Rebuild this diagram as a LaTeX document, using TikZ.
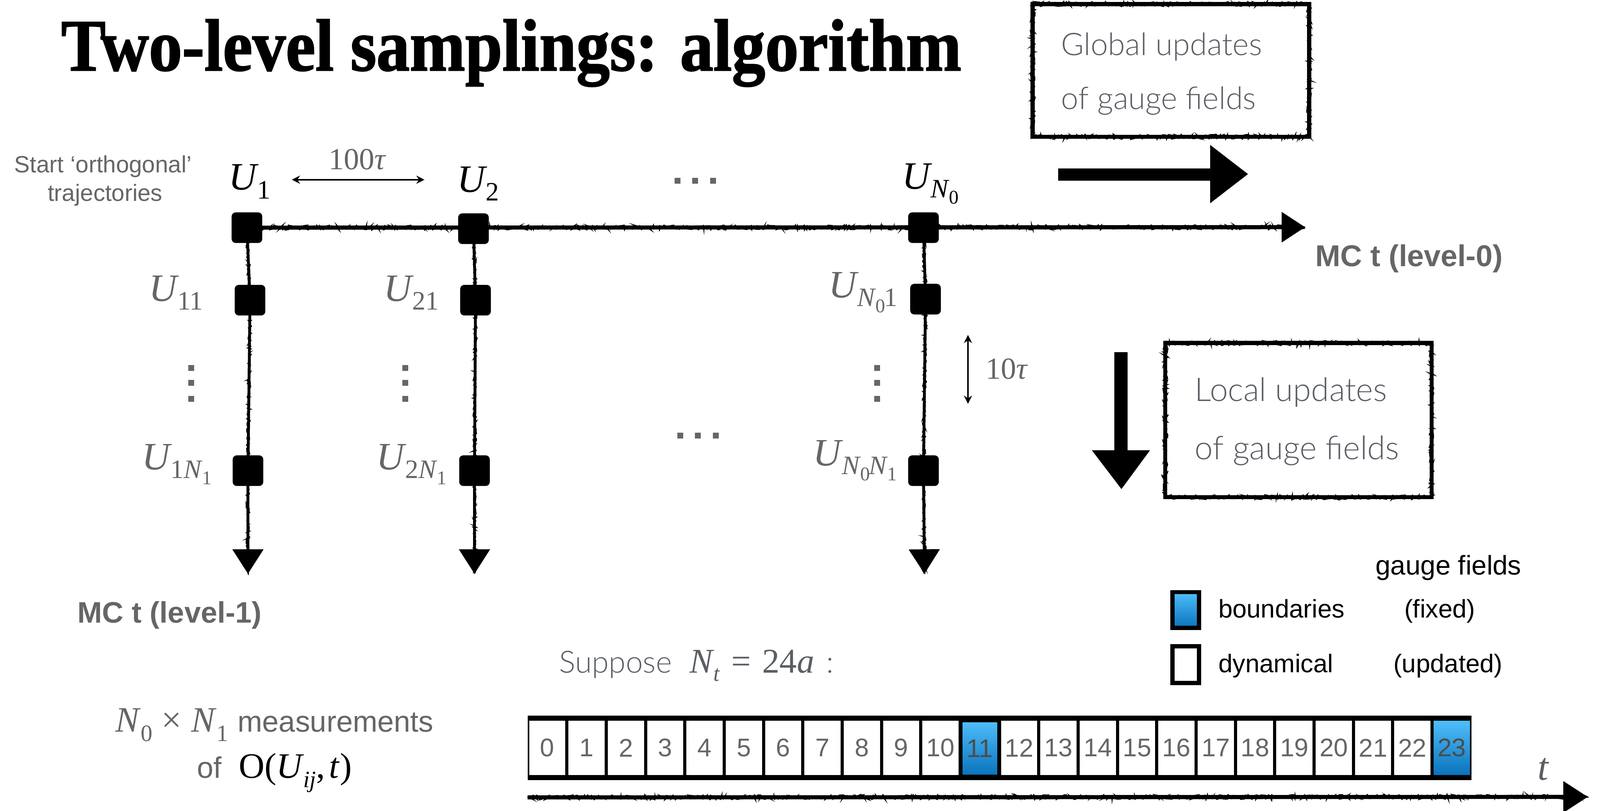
\documentclass[tikz,border=0pt]{standalone}
\usepackage{fontspec}
\usepackage{graphicx}
\setmainfont{Liberation Sans}
\newfontfamily\tms{Liberation Serif}
\newfontfamily\titlefont{Liberation Serif Bold}[FakeBold=1.6]
\newfontfamily\lite{Lato Light}
\usetikzlibrary{arrows.meta,decorations.pathmorphing}
\newcommand\fs[1]{\fontsize{#1}{#1}\selectfont}
\newcommand\Ulab[1]{{\tms\fs{38}\textit{U}\kern-1.5pt\raisebox{-8.5pt}{\fs{26}#1}}}
\newcommand\Nsub[1]{\textit{N}\kern-0.5pt\raisebox{-6pt}{\fs{19}#1}}
\definecolor{lg}{HTML}{666666}
\definecolor{bt}{HTML}{5A5E65}
\definecolor{bluetop}{HTML}{4FBEFA}
\definecolor{bluebot}{HTML}{0A73BC}
\tikzset{
  rough/.style={decorate, decoration={random steps, segment length=1.2pt, amplitude=2.3pt}},
  skthick/.style={line width=4pt, preaction={draw, arrows=-, line width=1.2pt, rough}},
  skthin/.style={line width=2.8pt, preaction={draw, arrows=-, line width=1.1pt, rough, decoration={random steps, segment length=1.2pt, amplitude=1.8pt}}},
  sq/.style={fill=black, rounded corners=4pt, minimum width=30pt, minimum height=30pt},
  cell/.style={fill=white, minimum width=35.5pt, minimum height=53pt, text=lg, font=\fs{25}},
  dbl/.style={line width=1.4pt, {Stealth[length=8pt,width=8pt]}-{Stealth[length=8pt,width=8pt]}},
  lbl/.style={anchor=base west, text=lg},
}
\begin{document}
\begin{tikzpicture}[x=1pt,y=-1pt, every node/.style={inner sep=0pt, outer sep=0pt}]
\useasboundingbox (0,0) rectangle (1568,794);

% title
\node[anchor=base west] (title) at (60,69) {\resizebox{882pt}{50pt}{\titlefont Two-level samplings: algorithm}};

% start text
\node[anchor=base, text=lg, font=\fs{23}] (start1) at (101,169) {Start ‘orthogonal’};
\node[anchor=base, text=lg, font=\fs{23}] (start2) at (103,197) {trajectories};

% squares
\node[sq] (s1) at (242,223) {};
\node[sq] (s2) at (464,224) {};
\node[sq] (s3) at (905,223) {};
\node[sq] (m1) at (245,294) {};
\node[sq] (m2) at (466,294) {};
\node[sq] (m3) at (907,293) {};
\node[sq] (b1) at (243,461) {};
\node[sq] (b2) at (465,461) {};
\node[sq] (b3) at (905,461) {};
\coordinate (e0) at (1279,222.5);
\coordinate (e1) at (243,562);
\coordinate (e2) at (465,562);
\coordinate (e3) at (906,562);

% lines
\draw[skthick, -{Triangle[length=23pt,width=29pt]}] (s1.center) -- (e0);
\draw[skthin, -{Triangle[length=24pt,width=30pt]}] (s1.center) -- (m1.center) -- (b1.center) -- (e1);
\draw[skthin, -{Triangle[length=24pt,width=30pt]}] (s2.center) -- (m2.center) -- (b2.center) -- (e2);
\draw[skthin, -{Triangle[length=24pt,width=30pt]}] (s3.center) -- (m3.center) -- (b3.center) -- (e3);

% top labels
\node[anchor=base west] (U1) at (224,186) {\Ulab{1}};
\node[anchor=base west] (U2) at (448,188) {\Ulab{2}};
\node[anchor=base west] (UN) at (884,185) {{\tms\fs{38}\textit{U}\kern-1.5pt\raisebox{-8.5pt}{\fs{26}\Nsub{0}}}};

% level-1 labels
\node[lbl] (l11) at (146,295) {\Ulab{11}};
\node[lbl] (l21) at (376,295) {\Ulab{21}};
\node[lbl] (l31) at (812,291.6) {\Ulab{\Nsub{0}\kern-1pt 1}};
\node[lbl] (l1N) at (139,460) {\Ulab{1\Nsub{1}}};
\node[lbl] (l2N) at (369,460) {\Ulab{2\Nsub{1}}};
\node[lbl] (l3N) at (797,456) {\Ulab{\Nsub{0}\kern-1pt\Nsub{1}}};

% dots
\foreach \x/\y in {664/177,681.3/177,698.8/177,666.6/426.8,684/426.8,701.4/426.8,
  187.5/360.4,187.5/375,187.5/390.5,397/360.4,397/375,397/390.5,859.6/360.4,859.6/375,859.6/390.5}
  \fill[lg] (\x-2.9,\y-2.9) rectangle ++(5.8,5.8);

% 100 tau
\node[lbl] (t100) at (322,166) {\tms\fs{30}100\textit{τ}};
\coordinate (a1) at (286,176);
\coordinate (a2) at (416,176);
\draw[dbl] (a1) -- (a2);
% 10 tau
\node[lbl] (t10) at (966,371) {\tms\fs{30}10\textit{τ}};
\coordinate (v1) at (948.6,328);
\coordinate (v2) at (948.6,395.5);
\draw[dbl] (v1) -- (v2);

% MC labels
\node[anchor=base west, text=lg, font=\fs{29.5}\bfseries] (mc0) at (1289,261) {MC t (level-0)};
\node[anchor=base west, text=lg, font=\fs{29}\bfseries] (mc1) at (76,610) {MC t (level-1)};

% global box
\node[minimum width=271pt, minimum height=130pt, anchor=north west] (gbox) at (1012,4) {};
\draw[skthick] (gbox.north west) rectangle (gbox.south east);
\node[anchor=base west, text=bt, font=\lite\fs{30.5}] (g1) at (1040,54) {Global updates};
\node[anchor=base west, text=bt, font=\lite\fs{30.5}] (g2) at (1040,107) {of gauge fields};
\fill (1037,165) -- (1186,165) -- (1186,142) -- (1223,170.5) -- (1186,199) -- (1186,177) -- (1037,177) -- cycle;

% local box
\node[minimum width=261pt, minimum height=151pt, anchor=north west] (lbox) at (1142,336) {};
\draw[skthick] (lbox.north west) rectangle (lbox.south east);
\node[anchor=base west, text=bt, font=\lite\fs{32}] (lc1) at (1171,393) {Local updates};
\node[anchor=base west, text=bt, font=\lite\fs{32}] (lc2) at (1171,450) {of gauge fields};
\fill (1092,345) -- (1105,345) -- (1105,441) -- (1127,441) -- (1099,479) -- (1070,441) -- (1092,441) -- cycle;

% legend
\node[anchor=base west, font=\fs{26.5}] (gf) at (1348,563) {gauge fields};
\node[draw=black, line width=4pt, minimum width=26pt, minimum height=35pt, top color=bluetop, bottom color=bluebot] (lbx1) at (1162,597.5) {};
\node[draw=black, line width=4pt, minimum width=26pt, minimum height=36pt, fill=white] (lbx2) at (1162,651) {};
\node[anchor=base west, font=\fs{25}] (bd) at (1194,605) {boundaries};
\node[anchor=base west, font=\fs{25}] (dy) at (1194,658.5) {dynamical};
\node[anchor=base, font=\fs{25}] (fx) at (1411,605) {(fixed)};
\node[anchor=base, font=\fs{25}] (up) at (1419,658.5) {(updated)};

% suppose
\node[anchor=base west, text=bt, font=\lite\fs{30}] (sup1) at (548,659) {Suppose};
\node[anchor=base west, text=bt] (sup2) at (676,659) {\tms\fs{34}\textit{N}\kern-1pt\raisebox{-8pt}{\fs{22}\textit{t}}\hspace{11pt}=\hspace{11pt}24\textit{a}};
\node[anchor=base west, text=bt, font=\lite\fs{30}] (sup3) at (810,659) {:};

% measurements
\node[lbl] (meas1) at (113,717) {\tms\fs{35}\textit{N}\raisebox{-9pt}{\fs{23}0}\hspace{9pt}×\hspace{9pt}\textit{N}\raisebox{-9pt}{\fs{23}1}};
\node[lbl, font=\fs{29}] (meas2) at (233,717) {measurements};
\node[lbl, font=\fs{29}] (of) at (193,762) {of};
\node[anchor=base west] (obs) at (234,762) {\tms\fs{35}O(\textit{U}\kern-1pt\raisebox{-9pt}{\fs{23}\textit{ij}},\hspace{4pt}\textit{t})};

% strip
\fill (517,701) rectangle (1442,764);
\foreach \i in {0,...,23} {
  \ifnum\i=11\relax
    \node[cell, top color=bluetop, bottom color=bluebot, text=black!70, draw=black, line width=1.5pt] (c\i) at ({517+(\i+0.5)*38.54},733) {\i};
  \else\ifnum\i=23\relax
    \node[cell, top color=bluetop, bottom color=bluebot, text=black!70] (c\i) at ({517+(\i+0.5)*38.54},732.5) {\i};
  \else
    \node[cell] (c\i) at ({517+(\i+0.5)*38.54},732.5) {\i};
  \fi\fi
}
\coordinate (ta) at (517,781);
\coordinate (tb) at (1556,780.5);
\draw[skthick, -{Triangle[length=24pt,width=30pt]}] (ta) -- (tb);
\node[anchor=base west, text=bt] (tl) at (1507,764) {\tms\fs{38}\textit{t}};
\end{tikzpicture}
\end{document}
